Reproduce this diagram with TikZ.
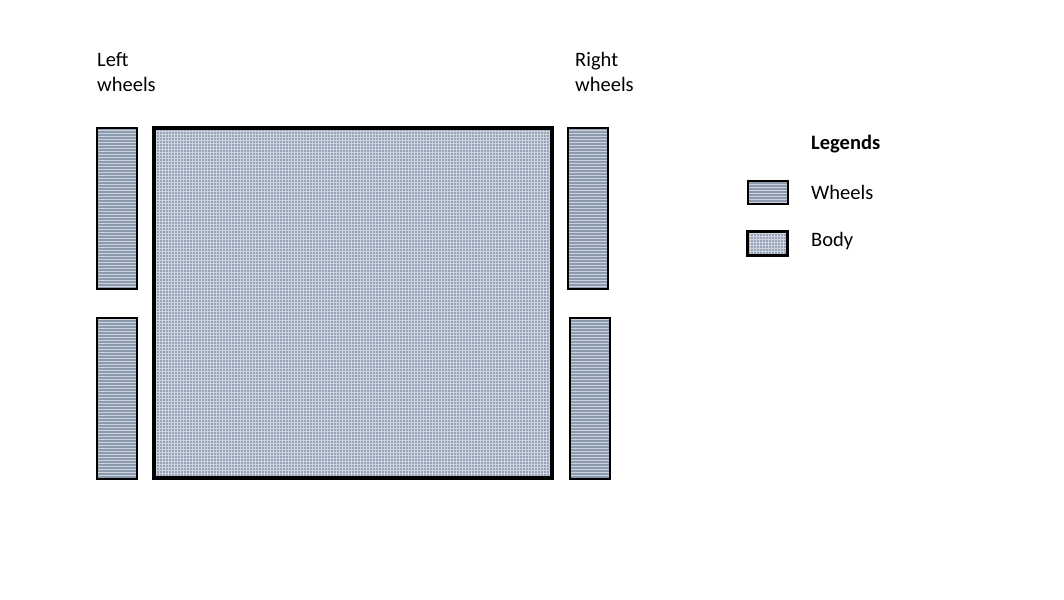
\documentclass[tikz,border=0pt]{standalone}
\usepackage{fontspec}
\setmainfont{Carlito}
\usetikzlibrary{positioning, patterns}
\definecolor{wheelblue}{RGB}{140,154,174}
\definecolor{bodyblue}{RGB}{150,163,182}
\definecolor{stripe}{RGB}{205,212,223}
\tikzset{
    wheel/.style={draw=black, line width=2pt, preaction={fill=wheelblue},
      pattern=horizontal lines, pattern color=stripe, minimum width=40pt, minimum height=161pt},
    chassis/.style={draw=black, line width=3.5pt, preaction={fill=bodyblue},
      pattern=grid, pattern color=stripe},
    lbl/.style={font=\fontsize{20.5}{25}\selectfont, inner sep=0pt, align=left},
}

\begin{document}
\begin{tikzpicture}[x=1pt, y=-1pt]
    \useasboundingbox (0,0) rectangle (1064,599);

    \node[chassis, minimum width=398pt, minimum height=350pt] (body) at (353,303) {};

    \node[wheel] (lw1) at (116.5,208) {};
    \node[wheel] (lw2) at (116.5,398) {};
    \node[wheel] (rw1) at (588,208) {};
    \node[wheel] (rw2) at (590,398) {};

    \node[lbl, anchor=north west] (lt) at (97,52) {Left\\wheels};
    \node[lbl, anchor=north west] (rt) at (575,52) {Right\\wheels};

    % legend
    \node[lbl, anchor=west, font=\fontsize{20.5}{25}\selectfont\bfseries] (leg) at (811,144) {Legends};
    \node[wheel, minimum width=40pt, minimum height=23pt] (kw) at (767.5,192) {};
    \node[lbl, anchor=west] (kwt) at (811,192) {Wheels};
    \node[chassis, minimum width=40pt, minimum height=24pt] (kb) at (767.5,243.5) {};
    \node[lbl, anchor=west] (kbt) at (811,241) {Body};
\end{tikzpicture}
\end{document}
